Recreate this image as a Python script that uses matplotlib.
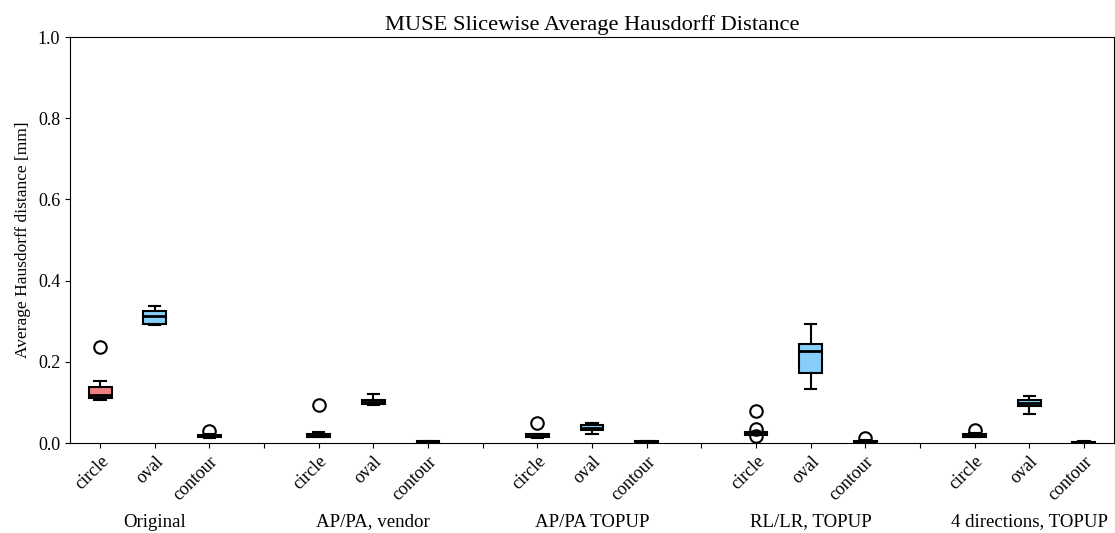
import matplotlib
matplotlib.use("Agg")
import matplotlib.pyplot as plt
import matplotlib.transforms as mtransforms

plt.rcParams['font.family'] = ['Liberation Serif', 'DejaVu Serif']

groups = ["Original", "AP/PA, vendor", "AP/PA TOPUP", "RL/LR, TOPUP", "4 directions, TOPUP"]
shapes = ["circle", "oval", "contour"]

# per group: [circle, oval, contour]
med = [[0.117, 0.314, 0.017], [0.019, 0.101, 0.003], [0.017, 0.037, 0.003], [0.023, 0.227, 0.004], [0.019, 0.098, 0.002]]
q1 = [[0.110, 0.293, 0.015], [0.015, 0.096, 0.002], [0.014, 0.031, 0.002], [0.020, 0.173, 0.002], [0.015, 0.090, 0.001]]
q3 = [[0.139, 0.326, 0.020], [0.023, 0.107, 0.004], [0.021, 0.044, 0.004], [0.026, 0.244, 0.006], [0.023, 0.106, 0.003]]
whislo = [[0.106, 0.291, 0.013], [0.014, 0.094, 0.001], [0.013, 0.022, 0.001], [0.019, 0.134, 0.001], [0.014, 0.071, 0.001]]
whishi = [[0.153, 0.337, 0.022], [0.026, 0.120, 0.005], [0.022, 0.050, 0.005], [0.028, 0.293, 0.007], [0.025, 0.116, 0.004]]
fliers = [[[0.237], [], [0.030]], [[0.094], [], []], [[0.050], [], []], [[0.079, 0.034, 0.017], [], [0.013]], [[0.033], [], []]]

colors = {"circle": "#F08080", "oval": "#87CEFA", "contour": "#90EE90"}

fig = plt.figure(figsize=(11.15, 5.33), dpi=100)
ax = fig.add_axes([70 / 1115, 1 - 443 / 533, 1044 / 1115, 406 / 533])

stats, positions, facecols = [], [], []
pos = 1
tick_pos, tick_lab = [], []
group_centers = []
for g in range(len(groups)):
    for s in range(3):
        stats.append(dict(med=med[g][s], q1=q1[g][s], q3=q3[g][s],
                          whislo=whislo[g][s], whishi=whishi[g][s],
                          fliers=fliers[g][s], label=shapes[s]))
        positions.append(pos)
        facecols.append(colors[shapes[s]])
        tick_pos.append(pos)
        tick_lab.append(shapes[s])
        if s == 1:
            group_centers.append(pos)
        pos += 1
    if g < len(groups) - 1:
        tick_pos.append(pos)
        tick_lab.append("")
        pos += 1

bp = ax.bxp(stats, positions=positions, widths=0.42, patch_artist=True,
            boxprops=dict(linewidth=1.5, edgecolor="black"),
            whiskerprops=dict(linewidth=1.5, color="black"),
            capprops=dict(linewidth=1.5, color="black"),
            medianprops=dict(linewidth=2.0, color="black"),
            flierprops=dict(marker="o", markersize=9, markerfacecolor="none",
                            markeredgecolor="black", markeredgewidth=1.5))
for patch, c in zip(bp["boxes"], facecols):
    patch.set_facecolor(c)

ax.set_xlim(0.45, 19.55)
ax.set_ylim(0, 1.0)
ax.set_yticks([0.0, 0.2, 0.4, 0.6, 0.8, 1.0])
ax.set_yticklabels(["0.0", "0.2", "0.4", "0.6", "0.8", "1.0"], fontsize=13)
ax.set_xticks(tick_pos)
ax.set_xticklabels(tick_lab, fontsize=13, rotation=45, ha="right", va="top",
                   rotation_mode="anchor")
ax.set_ylabel("Average Hausdorff distance [mm]", fontsize=12.5, labelpad=5)
ax.set_title("MUSE Slicewise Average Hausdorff Distance", fontsize=16.2, pad=5)

trans = mtransforms.blended_transform_factory(ax.transData, ax.transAxes)
for gx, name in zip(group_centers, groups):
    ax.text(gx, -0.1946, name, transform=trans, ha="center", va="center", fontsize=13.6)

fig.savefig("out.png", dpi=100)
